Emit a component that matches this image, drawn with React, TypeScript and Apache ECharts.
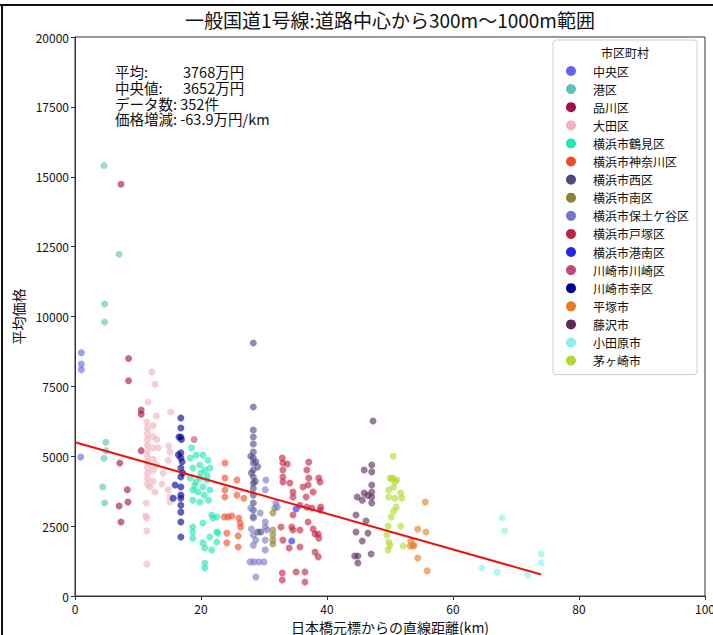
import React, { useEffect, useRef } from "react";
import * as echarts from "echarts";

const TITLE = "一般国道1号線:道路中心から300m～1000m範囲";
const X_NAME = "日本橋元標からの直線距離(km)";
const Y_NAME = "平均価格";
const LEGEND_TITLE = "市区町村";
const statLabels = ["平均:", "中央値:", "データ数: 352件", "価格増減: -63.9万円/km"];
const statValues = ["3768万円", "3652万円", "", ""];

const xTicks = { min: 0, max: 100, interval: 20 };
const yTicks = { min: 0, max: 20000, interval: 2500 };

const names = [
  "中央区", "港区", "品川区", "大田区", "横浜市鶴見区", "横浜市神奈川区", "横浜市西区",
  "横浜市南区", "横浜市保土ケ谷区", "横浜市戸塚区", "横浜市港南区", "川崎市川崎区",
  "川崎市幸区", "平塚市", "藤沢市", "小田原市", "茅ヶ崎市",
];
const colors = [
  "#6464f0", "#62c0bb", "#a3104c", "#f0b2bd", "#1ee6b4", "#f24a2a", "#4a4a80",
  "#8c8232", "#7676c8", "#c2203e", "#2424f0", "#c4447c", "#00008e", "#ea7a1e",
  "#5c2a5c", "#84f2ea", "#b2da2e",
];

const chuo = [[1.0, 8700], [1.0, 8300], [1.0, 8100], [0.9, 4970]];
const minato = [[4.6, 15400], [7.0, 12230], [4.7, 10450], [4.7, 9800], [4.9, 5500], [4.9, 5200], [4.6, 4930], [4.4, 3900], [4.7, 3330]];
const shinagawa = [[7.3, 14730], [8.5, 8500], [8.5, 7700], [10.5, 6650], [10.5, 6500], [10.5, 5200], [7.1, 4760], [8.3, 3800], [8.4, 3360], [7.0, 3220], [7.3, 2650]];
const ota = [
  [12.2, 8010], [12.7, 7580], [11.6, 6940], [15.2, 6580], [12.9, 6440], [11.4, 6220],
  [11.5, 6000], [11.5, 5800], [11.5, 5600], [11.5, 5400], [11.5, 5200], [11.5, 5000], [11.5, 4800],
  [11.5, 4600], [11.5, 4400], [11.5, 4200], [11.5, 4000],
  [12.4, 6100], [12.4, 5700], [12.4, 5300], [12.4, 4900], [12.4, 4500], [12.4, 4100],
  [13.0, 5600], [13.2, 5300], [12.9, 4700], [14.9, 5370], [15.1, 5150], [14.8, 4860],
  [11.9, 3900], [12.7, 3720], [14.8, 3800], [15.1, 3540], [15.1, 3360], [11.3, 3330],
  [11.2, 2860], [11.4, 2790], [11.4, 2330], [11.4, 1140], [14.0, 4400], [13.8, 4000],
];
const tsurumi = [
  [18.3, 4940], [19.2, 5040], [20.3, 5040], [21.1, 4860], [21.4, 4580], [18.7, 4580], [19.8, 4690],
  [20.6, 4510], [18.3, 4220], [19.2, 4080], [19.8, 4220], [20.9, 4150], [21.4, 3790], [18.7, 3790],
  [19.5, 3720], [20.5, 3610], [21.2, 3430], [18.7, 3430], [19.8, 3360], [18.5, 5300], [20.0, 4400],
  [21.0, 4300], [19.0, 3950], [20.3, 3900],
  [18.7, 2470], [18.7, 2290], [18.7, 2070], [20.3, 2610], [20.3, 1900], [20.6, 1720], [21.7, 2900],
  [21.9, 2790], [22.5, 2830], [21.4, 2110], [22.5, 2290], [22.7, 2250], [22.5, 1930], [21.7, 1650],
  [20.6, 1180], [20.6, 1000],
];
const kanagawa = [
  [23.8, 4760], [23.8, 4220], [25.7, 4150], [23.8, 3790], [23.8, 3540], [25.7, 3610], [26.8, 3500],
  [23.7, 2830], [24.3, 2830], [24.9, 2860], [26.0, 2790], [26.3, 2470], [26.2, 2610], [24.1, 2250],
  [25.9, 2150], [24.1, 1900], [25.9, 1750],
];
const nishi = [
  [28.3, 9050], [28.3, 6760], [28.3, 5940], [28.3, 5690], [28.3, 5440], [28.3, 5150], [28.3, 4940],
  [28.3, 4760], [29.0, 4620], [28.3, 4510], [28.3, 4260], [28.3, 4040], [28.3, 3610], [28.3, 3330],
  [28.3, 3080], [28.3, 2830], [29.0, 2290], [29.5, 2290], [27.9, 5000], [28.7, 4800], [28.0, 4400],
  [28.6, 4100], [28.3, 3850],
];
const minami = [[31.4, 2970], [31.7, 3150], [31.4, 2360], [31.4, 2180], [31.4, 2000], [31.4, 1860]];
const hodogaya = [
  [30.3, 4150], [30.2, 3800], [28.3, 2790], [30.2, 2650], [28.3, 2180], [28.7, 2000], [30.2, 2000],
  [28.3, 1820], [30.2, 1650], [27.8, 1220], [28.4, 1220], [29.2, 1220], [30.0, 1220], [28.7, 680],
  [31.9, 3330], [32.1, 3180], [27.9, 3150], [29.4, 2970], [30.2, 2470], [30.5, 2360], [28.0, 2400],
];
const totsuka = [
  [32.9, 4940], [33.0, 4760], [33.7, 4720], [33.0, 4510], [33.0, 4260], [33.0, 4080], [34.1, 4040],
  [34.6, 3720], [34.6, 3540], [37.1, 4790], [36.8, 4510], [37.1, 4220], [38.7, 4220], [37.0, 3970],
  [38.9, 4080], [36.2, 3900], [37.8, 3720], [36.7, 3540], [35.7, 3250], [36.8, 3180], [37.6, 3150],
  [38.9, 3080], [39.0, 3180], [34.6, 2900], [32.7, 2470], [34.4, 2470], [34.6, 2360], [35.7, 2360],
  [37.0, 2650], [37.8, 2400], [38.1, 2220], [38.6, 2220], [38.7, 2070], [33.0, 2000], [34.0, 1720],
  [35.7, 1750], [38.1, 1570], [38.6, 1400], [32.9, 820], [32.9, 570], [35.1, 860], [36.5, 860],
  [36.5, 500],
];
const konan = [[35.1, 3110], [34.4, 1970]];
const kawasaki = [[18.9, 5600]];
const saiwai = [
  [16.8, 6370], [16.8, 6010], [16.8, 5690], [16.5, 5690], [16.9, 5600], [16.8, 5120], [16.8, 4940],
  [16.4, 5050], [16.8, 4580], [16.8, 4260], [16.8, 3900], [15.9, 3970], [16.8, 3610], [15.6, 3500],
  [16.8, 3500], [16.8, 3250], [16.8, 3000], [16.8, 2650], [16.8, 2110], [17.0, 4800], [17.1, 4400],
];
const hiratsuka = [[55.6, 3360], [54.4, 2400], [55.7, 2290], [53.3, 1970], [53.8, 1820], [53.2, 1790], [53.7, 1790], [54.4, 1360], [55.9, 900]];
const fujisawa = [
  [47.3, 6260], [47.1, 4690], [45.9, 4510], [47.1, 4440], [47.1, 3970], [47.1, 3720], [45.9, 3680],
  [44.8, 3540], [45.6, 3430], [47.1, 3540], [47.1, 3330], [44.6, 2900], [46.2, 2680], [44.6, 2290],
  [46.5, 2250], [45.6, 1970], [44.4, 1430], [44.9, 1430], [44.9, 1180], [47.0, 1500], [46.5, 3600],
];
const odawara = [[67.8, 2800], [68.2, 2330], [64.6, 1000], [67.0, 860], [71.9, 750], [74.0, 1500], [74.0, 1180]];
const chigasaki = [
  [50.5, 5000], [50.0, 4220], [50.5, 4220], [51.1, 4150], [49.8, 3790], [50.6, 3900], [51.7, 3680],
  [49.8, 3540], [50.8, 3500], [51.9, 3500], [51.0, 3180], [50.6, 3040], [50.2, 2830], [51.7, 2500],
  [49.7, 2500], [49.5, 2180], [49.8, 1930], [50.0, 1820], [52.1, 1790], [49.7, 1650], [50.3, 4180],
  [50.8, 4100],
];
const groups = [
  chuo, minato, shinagawa, ota, tsurumi, kanagawa, nishi, minami, hodogaya, totsuka,
  konan, kawasaki, saiwai, hiratsuka, fujisawa, odawara, chigasaki,
];
const trendLine = [[0, 5500], [74, 771]];

const FONT = "Noto Sans CJK JP";

export default function App() {
  const ref = useRef<HTMLDivElement>(null);
  useEffect(() => {
    if (!ref.current) return;
    const chart = echarts.init(ref.current, null, { renderer: "svg" });
    const scatterSeries = names.map((n, i) => ({
      name: n,
      type: "scatter",
      data: groups[i],
      symbol: "circle",
      symbolSize: 7,
      itemStyle: { color: colors[i], opacity: 0.62 },
      z: 2,
    }));
    const statText = statLabels
      .map((t, i) => (statValues[i] ? `{a|${t}}${statValues[i]}` : t))
      .join("\n");
    chart.setOption({
      animation: false,
      backgroundColor: "#fff",
      textStyle: { fontFamily: FONT },
      grid: {
        left: 75, right: 8, top: 37, bottom: 39,
        outerBoundsMode: "none",
        containLabel: false,
        show: true, borderColor: "#333", borderWidth: 1, backgroundColor: "transparent",
      },
      xAxis: {
        type: "value", ...xTicks,
        name: X_NAME, nameLocation: "middle", nameGap: 24,
        nameTextStyle: { fontSize: 14, color: "#111", fontFamily: FONT },
        axisLine: { show: true, lineStyle: { color: "#333" } },
        axisTick: { show: true, length: 4, lineStyle: { color: "#333" } },
        axisLabel: { fontSize: 12, color: "#111", margin: 6 },
        splitLine: { show: false },
      },
      yAxis: {
        type: "value", ...yTicks,
        name: Y_NAME, nameLocation: "middle", nameGap: 50, nameRotate: 90,
        nameTextStyle: { fontSize: 14, color: "#111", fontFamily: FONT },
        axisLine: { show: true, lineStyle: { color: "#333" } },
        axisTick: { show: true, length: 4, lineStyle: { color: "#333" } },
        axisLabel: { fontSize: 12, color: "#111", margin: 6, formatter: (v: number) => String(v) },
        splitLine: { show: false },
      },
      legend: {
        data: names,
        orient: "vertical",
        left: 553, top: 40,
        padding: [25, 8, 8, 13],
        itemWidth: 10, itemHeight: 12, itemGap: 6.1,
        icon: "circle",
        itemStyle: { opacity: 1 },
        textStyle: { fontSize: 12, color: "#111", fontFamily: FONT, padding: [0, 0, 0, 12] },
        borderColor: "#cfcfcf", borderWidth: 1, borderRadius: 3, backgroundColor: "#fff",
      },
      graphic: [
        { type: "line", shape: { x1: 0, y1: 5, x2: 713, y2: 5 }, style: { stroke: "#111", lineWidth: 2 }, z: 100 },
        { type: "line", shape: { x1: 2, y1: 5, x2: 2, y2: 635 }, style: { stroke: "#111", lineWidth: 2 }, z: 100 },
        {
          type: "text", x: 390, y: 19,
          style: { text: TITLE, font: `19px "${FONT}"`, fill: "#111", align: "center", verticalAlign: "middle" },
        },
        {
          type: "text", x: 625, y: 52, z: 100,
          style: { text: LEGEND_TITLE, font: `12px "${FONT}"`, fill: "#111", align: "center", verticalAlign: "middle" },
        },
        {
          type: "text", x: 115, y: 64,
          style: {
            text: statText,
            font: `14.5px "${FONT}"`,
            fontSize: 14.5,
            fontFamily: FONT,
            lineHeight: 15.7,
            fill: "#111",
            rich: { a: { width: 68, fontSize: 14.5, fontFamily: FONT, lineHeight: 15.7, fill: "#111" } },
          },
        },
      ],
      series: [
        ...scatterSeries,
        {
          name: "trend",
          type: "line",
          data: trendLine,
          showSymbol: false,
          symbol: "none",
          lineStyle: { color: "#e8160e", width: 2 },
          z: 3,
        },
      ],
    });
    return () => chart.dispose();
  }, []);
  return (
    <div
      ref={ref}
      style={{ position: "fixed", left: 0, top: 0, width: 713, height: 635 }}
    />
  );
}
